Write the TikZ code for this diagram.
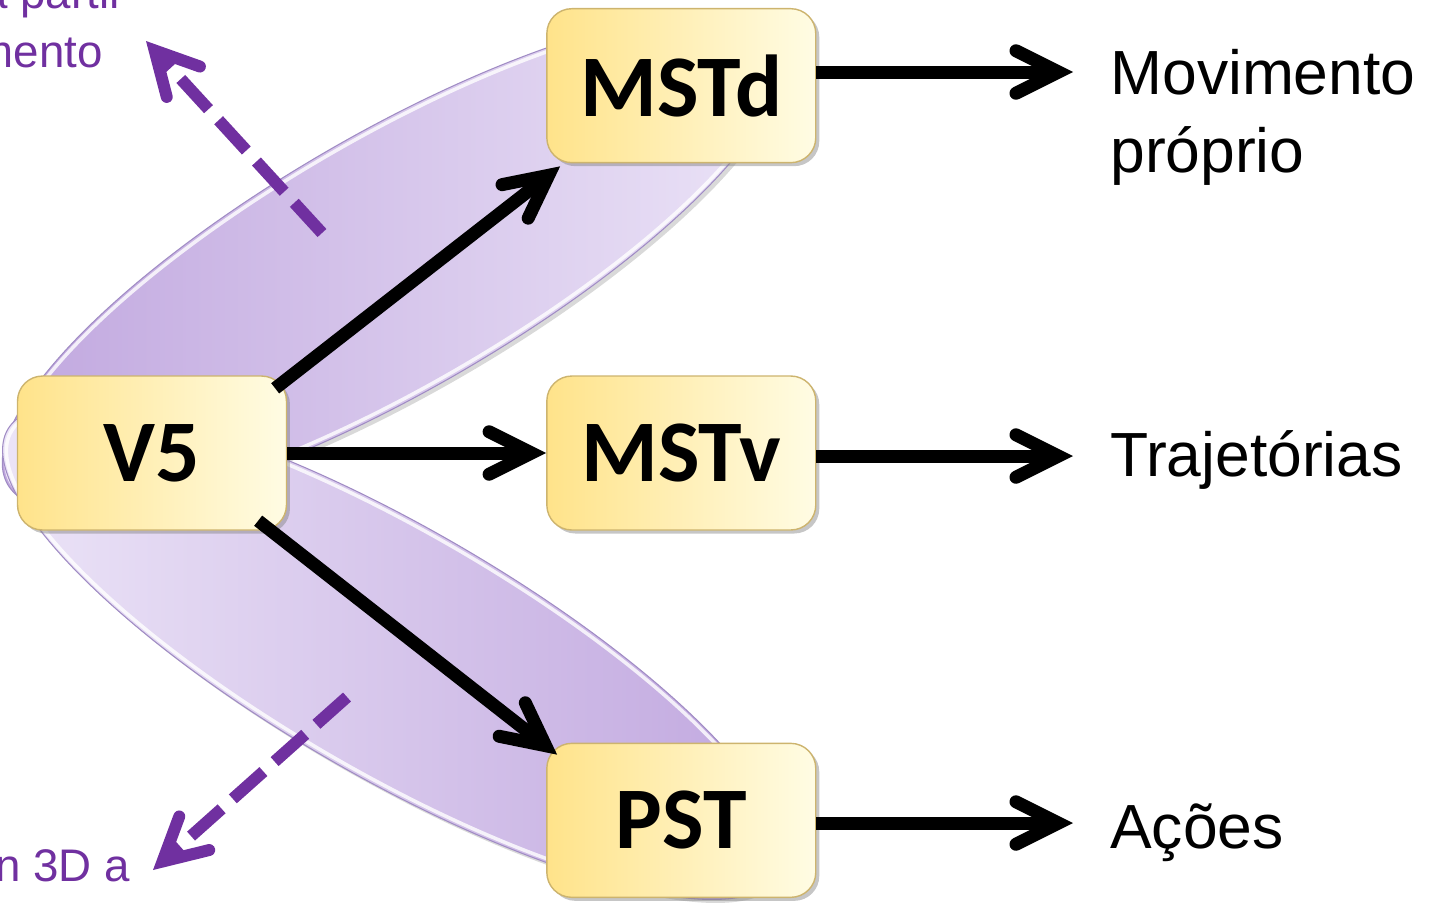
\documentclass[tikz,border=0pt]{standalone}
\usepackage{fontspec}
\setmainfont{Liberation Sans}
\newfontfamily\calibrifont{Carlito}
\usetikzlibrary{positioning,arrows.meta,shadows}

\definecolor{boxleft}{HTML}{FFE38A}
\definecolor{boxright}{HTML}{FFFCE4}
\definecolor{boxedge}{HTML}{CDB46E}
\definecolor{lilacdark}{HTML}{BFA5DE}
\definecolor{lilaclight}{HTML}{EDE6F8}
\definecolor{lilacedge}{HTML}{A08CC4}
\definecolor{hintpurple}{HTML}{7030A0}

\begin{document}
\begin{tikzpicture}[x=0.02cm, y=-0.02cm, node distance=4.24cm and 5.18cm,
                    box/.style={rounded corners=0.5cm, minimum width=5.38cm, minimum height=3.08cm,
                                left color=boxleft, right color=boxright, draw=boxedge, line width=0.8pt,
                                drop shadow={opacity=0.45, shadow xshift=2pt, shadow yshift=-2pt},
                                font=\calibrifont\bfseries\fontsize{50}{60}\selectfont},
                    outcome/.style={inner sep=0pt, align=left, font=\fontsize{35.5}{44}\selectfont},
                    hinttext/.style={inner sep=0pt, text=hintpurple, font=\fontsize{26}{32}\selectfont},
                    arr/.style={line width=7.4pt, -{Straight Barb[length=0.85cm, width=0.85cm, line cap=round, line join=miter]}},
                    hint/.style={hintpurple, line width=6.8pt, dash pattern=on 0.82cm off 0.3cm,
                                 -{Straight Barb[length=0.85cm, width=0.9cm, line cap=round, line join=miter]}},
                    lobe/.style={draw=lilacedge, line width=0.6pt,
                                 drop shadow={opacity=0.3, shadow xshift=2pt, shadow yshift=-2pt}},
                    rim/.style={white, line width=2pt, opacity=0.8}]
\clip (0,0) rectangle (1435,904);

% the two lilac lobes behind the boxes
\begin{scope}[shift={(393,262)}, rotate=30]
  \shade[lobe, left color=lilacdark, right color=lilaclight] (0,0) ellipse [x radius=8.9cm, y radius=2.58cm];
  \draw[rim] (0,0) ellipse [x radius=8.82cm, y radius=2.5cm];
\end{scope}
\begin{scope}[shift={(393,652)}, rotate=-30]
  \shade[lobe, left color=lilaclight, right color=lilacdark] (0,0) ellipse [x radius=8.9cm, y radius=2.5cm];
  \draw[rim] (0,0) ellipse [x radius=8.82cm, y radius=2.42cm];
\end{scope}

% areas
\node[box] (V5) at (152,453) {V5};
\node[box, right=of V5] (MSTv) {MSTv};
\node[box, above=of MSTv] (MSTd) {MSTd};
\node[box, below=of MSTv] (PST) {PST};

% what each area gives
\node[outcome, anchor=base west] (selfmot) at (1110,172) {Movimento\\próprio};
\node[outcome, anchor=base west] (traj) at (1110,476) {Trajetórias};
\node[outcome, anchor=base west] (acts) at (1110,848) {Ações};
\coordinate (selfmotTip) at (1073,72);
\coordinate (trajTip) at (1073,456);
\coordinate (actsTip) at (1073,823);

% purple hints, cut by the edge
\node[hinttext, anchor=base east] (upperA) at (125,8) {a partir};
\node[hinttext, anchor=base east] (upperB) at (103,67) {mento};
\node[hinttext, anchor=base east] (lowerA) at (130,881) {n 3D a};
\coordinate (upStart) at (322,233);
\coordinate (upTip) at (146,41);
\coordinate (downStart) at (347,697);
\coordinate (downTip) at (153,870);

\draw[arr] ([shift={(-12,13)}]V5.north east) -- ([shift={(14,3)}]MSTd.south west);
\draw[arr] (V5.east) -- (MSTv.west);
\draw[arr] ([shift={(-29,-10)}]V5.south east) -- ([shift={(11,12)}]PST.north west);
\draw[arr] (MSTd.east |- selfmotTip) -- (selfmotTip);
\draw[arr] (MSTv.east |- trajTip) -- (trajTip);
\draw[arr] (PST.east |- actsTip) -- (actsTip);
\draw[hint] (upStart) -- (upTip);
\draw[hint] (downStart) -- (downTip);
\end{tikzpicture}
\end{document}
